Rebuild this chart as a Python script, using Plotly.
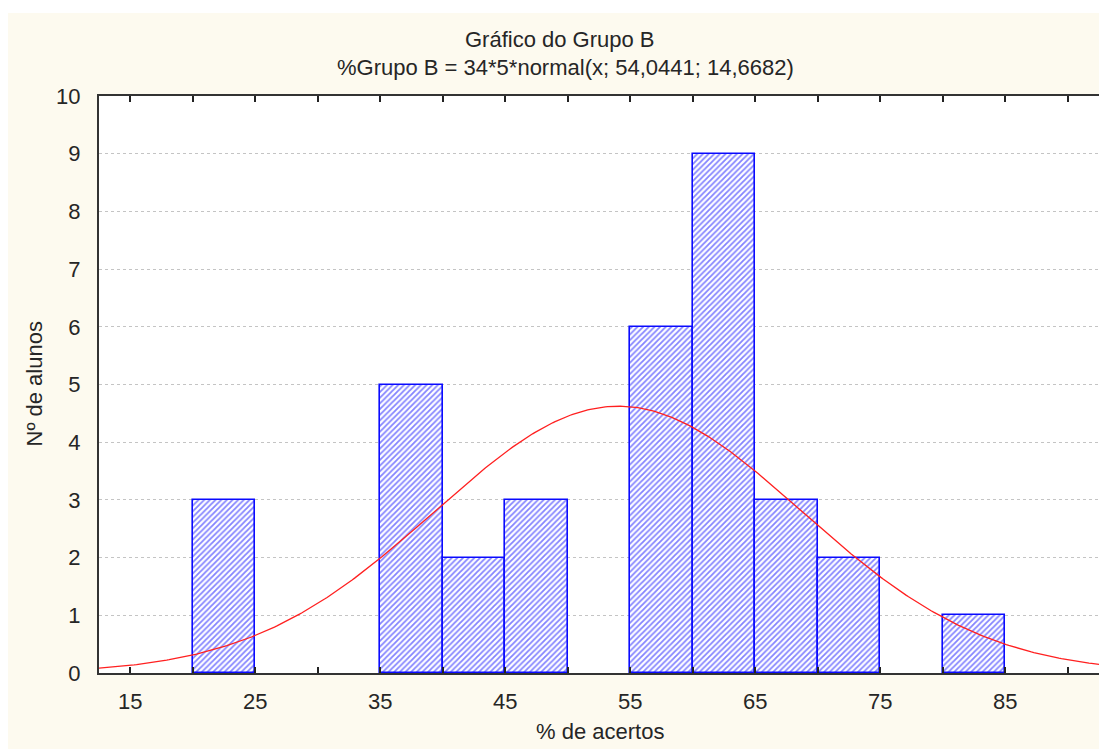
import numpy as np
import plotly.graph_objects as go

# Histogram of scores (% de acertos), bins of width 5
bin_left = [20, 35, 40, 45, 55, 60, 65, 70, 80]
counts = [3, 5, 2, 3, 6, 9, 3, 2, 1]
bin_width = 5

# Fitted normal curve parameters (from the subtitle)
n_total = 34
mu = 54.0441
sigma = 14.6682

x_range = [12.5, 92.5]
label_ticks = [15, 25, 35, 45, 55, 65, 75, 85]

W, H = 1099, 749
ML, MR, MT, MB = 99, 0, 96, 76
PW, PH = W - ML - MR, H - MT - MB

cream = "#FDFAEF"
blue = "#0A0AFF"
font_family = "Liberation Sans, Arial, sans-serif"
text_color = "#262626"
fs = 22

centers = [b + bin_width / 2 for b in bin_left]

xs = np.linspace(x_range[0], x_range[1], 400)
ys = n_total * bin_width * np.exp(-0.5 * ((xs - mu) / sigma) ** 2) / (sigma * np.sqrt(2 * np.pi))

fig = go.Figure()
fig.add_trace(go.Bar(
    x=centers, y=counts, width=bin_width,
    marker=dict(
        color="white",
        line=dict(color=blue, width=1.6),
        pattern=dict(shape="/", fgcolor=blue, bgcolor="white", size=4, solidity=0.45),
    ),
    hoverinfo="x+y", showlegend=False,
))
fig.add_trace(go.Scatter(
    x=xs, y=ys, mode="lines", line=dict(color="#FF2020", width=1.3),
    hoverinfo="skip", showlegend=False,
))


def px_x(p):
    return (p - ML) / PW


def px_y(p):
    return (H - MB - p) / PH


shapes = [
    # white outer border strips
    dict(type="rect", xref="paper", yref="paper", x0=px_x(0), x1=px_x(W), y0=px_y(13), y1=px_y(0),
         fillcolor="white", line=dict(width=0), layer="below"),
    dict(type="rect", xref="paper", yref="paper", x0=px_x(0), x1=px_x(8), y0=px_y(H), y1=px_y(0),
         fillcolor="white", line=dict(width=0), layer="below"),
]

annotations = [
    dict(text="Gráfico do Grupo B", xref="paper", yref="paper", x=px_x(560), y=px_y(40),
         showarrow=False, xanchor="center", yanchor="middle",
         font=dict(family=font_family, size=fs, color=text_color)),
    dict(text="%Grupo B = 34*5*normal(x; 54,0441; 14,6682)", xref="paper", yref="paper",
         x=px_x(565), y=px_y(68), showarrow=False, xanchor="center", yanchor="middle",
         font=dict(family=font_family, size=fs, color=text_color)),
    dict(text="Nº de alunos", xref="paper", yref="paper", x=px_x(34), y=0.5, textangle=-90,
         showarrow=False, xanchor="center", yanchor="middle",
         font=dict(family=font_family, size=fs, color=text_color)),
    dict(text="% de acertos", xref="paper", yref="paper", x=px_x(600), y=px_y(731),
         showarrow=False, xanchor="center", yanchor="middle",
         font=dict(family=font_family, size=fs, color=text_color)),
]

fig.update_layout(
    width=W, height=H,
    margin=dict(l=ML, r=MR, t=MT, b=MB, pad=0),
    paper_bgcolor=cream, plot_bgcolor="white",
    bargap=0, shapes=shapes, annotations=annotations,
    font=dict(family=font_family, size=fs, color=text_color),
    xaxis=dict(
        range=x_range, tickmode="array", tickvals=label_ticks,
        ticks="inside", ticklen=6, tickwidth=2, tickcolor="#222",
        showline=True, linecolor="#333", linewidth=2, mirror="ticks",
        showgrid=False, zeroline=False, ticklabelstandoff=8,
        minor=dict(tickmode="linear", tick0=20, dtick=10, ticks="inside", ticklen=6,
                   tickwidth=2, tickcolor="#222", showgrid=False),
        tickfont=dict(size=fs),
    ),
    yaxis=dict(
        range=[0, 10], dtick=1, ticks="", showline=True, linecolor="#333", linewidth=2,
        showgrid=True, gridcolor="#C4C4C4", gridwidth=1, griddash="dot",
        zeroline=False, ticklabelstandoff=12, tickfont=dict(size=fs),
    ),
)

fig.write_html("out.html")
